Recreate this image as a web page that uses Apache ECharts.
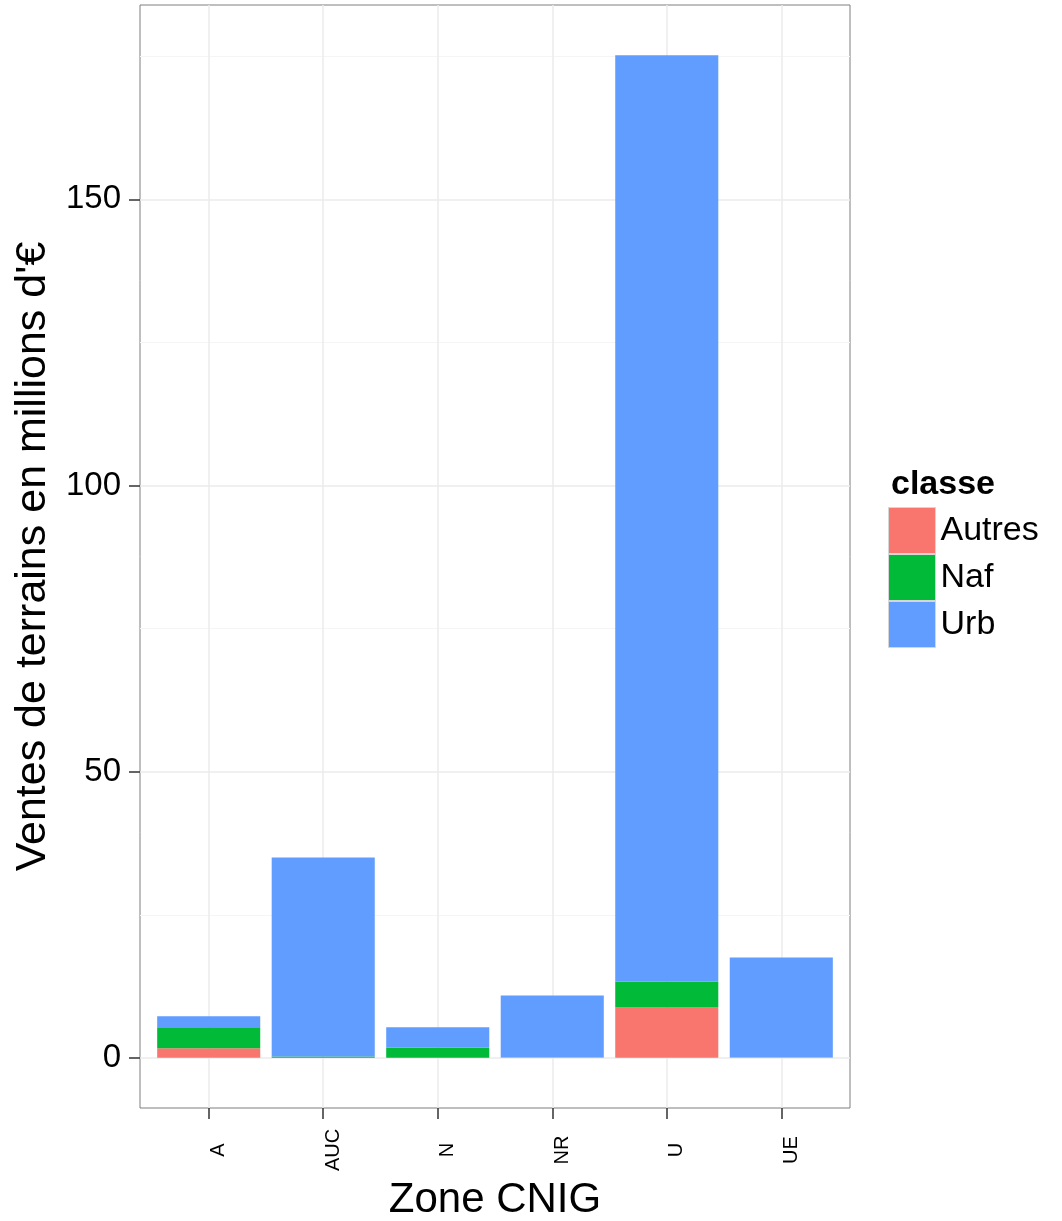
<!DOCTYPE html>
<html lang="fr">
<head>
	<meta charset="UTF-8">
	<title>Ventes de terrains par zone CNIG</title>
	<script src="https://cdn.jsdelivr.net/npm/echarts@6/dist/echarts.min.js"></script>
	<style>
		html,body{margin:0;padding:0;background:#fff;}
		#chart{width:1062px;height:1221px;}
	</style>
</head>
<body>
	<div id="chart"></div>
	<script type="text/javascript">
		// zones CNIG et valeurs (millions d'euros)
		var categories = ['A', 'AUC', 'N', 'NR', 'U', 'UE'];
		var autres = [1.66, 0, 0, 0.1, 8.82, 0.1];
		var naf = [3.67, 0.26, 1.83, 0, 4.54, 0];
		var urb = [1.92, 34.75, 3.5, 10.8, 161.84, 17.45];
		var yTicks = [0, 50, 100, 150];
		var yMinorTicks = [25, 75, 125, 175];
		var xTicks = [0, 1, 2, 3, 4, 5];

		var font = "'Liberation Sans', Arial, sans-serif";

		// expansion de 5% comme ggplot
		var totals = categories.map(function (c, i) { return autres[i] + naf[i] + urb[i]; });
		var maxTotal = Math.max.apply(null, totals);
		var yMin = -0.05 * maxTotal;
		var yMax = maxTotal * 1.05;

		// panneau 140..850 px ; 6 categories + 0.6 de marge de chaque cote
		var panelLeft = 140, panelWidth = 710;
		var band = panelWidth / 6.2;

		var myChart = echarts.init(document.getElementById('chart'));
		var option = {
			animation: false,
			color: ['#F8766D', '#00BA38', '#619CFF'],
			title: {
				text: 'classe',
				left: 886,
				top: 463,
				textStyle: {fontFamily: font, fontSize: 34, fontWeight: 'bold', color: '#000'}
			},
			legend: {
				orient: 'vertical',
				left: 888,
				top: 507,
				itemWidth: 47,
				itemHeight: 46,
				itemGap: 0,
				icon: 'rect',
				padding: 0,
				itemStyle: {borderColor: '#d6d6d6', borderWidth: 1},
				textStyle: {fontFamily: font, fontSize: 34, color: '#000'},
				data: ['Autres', 'Naf', 'Urb']
			},
			grid: [{
				// panneau : bordure, grilles, graduations
				left: panelLeft,
				right: 1062 - panelLeft - panelWidth,
				top: 5,
				bottom: 113,
				show: true,
				borderColor: '#7f7f7f',
				borderWidth: 1,
				backgroundColor: '#fff',
				outerBoundsMode: 'none'
			}, {
				// barres
				left: panelLeft + 0.1 * band,
				right: 1062 - panelLeft - panelWidth + 0.1 * band,
				top: 5,
				bottom: 113,
				outerBoundsMode: 'none'
			}],
			xAxis: [{
				type: 'value',
				gridIndex: 0,
				min: -0.6,
				max: 5.6,
				name: 'Zone CNIG',
				nameLocation: 'middle',
				nameGap: 66,
				nameTextStyle: {fontFamily: font, fontSize: 42, color: '#000'},
				axisLine: {show: false, onZero: false},
				axisTick: {
					show: true,
					length: 11,
					customValues: xTicks,
					lineStyle: {color: '#333', width: 1.5}
				},
				axisLabel: {
					customValues: xTicks,
					rotate: 90,
					align: 'center',
					verticalAlign: 'top',
					margin: 42,
					fontFamily: font,
					fontSize: 20,
					color: '#000',
					formatter: function (v) { return categories[Math.round(v)]; }
				},
				splitLine: {show: true, lineStyle: {color: '#ebebeb', width: 1.5}}
			}, {
				type: 'category',
				gridIndex: 1,
				data: categories,
				show: false
			}],
			yAxis: [{
				type: 'value',
				gridIndex: 0,
				min: yMin,
				max: yMax,
				name: "Ventes de terrains en millions d'€",
				nameLocation: 'middle',
				nameRotate: 90,
				nameGap: 74,
				nameTextStyle: {fontFamily: font, fontSize: 43, color: '#000'},
				axisLine: {show: false, onZero: false},
				axisTick: {
					show: true,
					length: 11,
					customValues: yTicks,
					lineStyle: {color: '#333', width: 1.5}
				},
				axisLabel: {
					customValues: yTicks,
					margin: 19,
					fontFamily: font,
					fontSize: 33,
					color: '#000'
				},
				splitLine: {show: true, lineStyle: {color: '#ebebeb', width: 1.5}}
			}, {
				type: 'value',
				gridIndex: 0,
				min: yMin,
				max: yMax,
				position: 'left',
				axisLine: {show: false, onZero: false},
				axisTick: {show: false, customValues: yMinorTicks},
				axisLabel: {show: false},
				splitLine: {show: true, lineStyle: {color: '#f5f5f5', width: 1}}
			}, {
				type: 'value',
				gridIndex: 1,
				min: yMin,
				max: yMax,
				show: false,
				splitLine: {show: false}
			}],
			series: [
				{name: 'Autres', type: 'bar', stack: 'total', xAxisIndex: 1, yAxisIndex: 2, barWidth: '90%', data: autres},
				{name: 'Naf', type: 'bar', stack: 'total', xAxisIndex: 1, yAxisIndex: 2, barWidth: '90%', data: naf},
				{name: 'Urb', type: 'bar', stack: 'total', xAxisIndex: 1, yAxisIndex: 2, barWidth: '90%', data: urb}
			]
		};
		myChart.setOption(option);
	</script>
</body>
</html>
